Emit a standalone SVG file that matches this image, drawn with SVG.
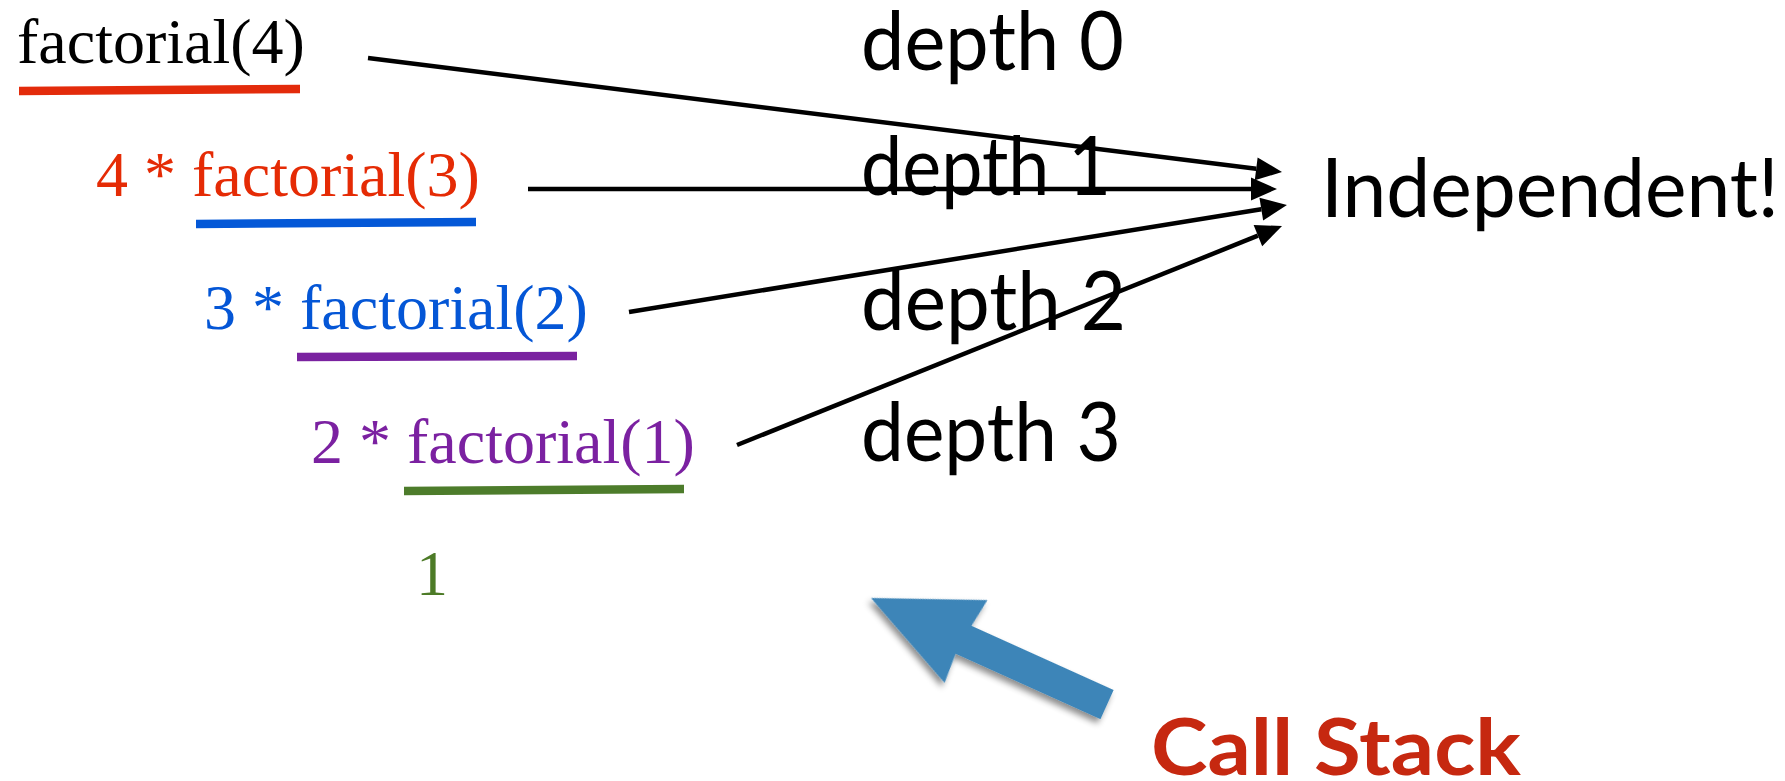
<svg xmlns="http://www.w3.org/2000/svg" width="1785" height="781" viewBox="0 0 1785 781">
  <style>
    .call { font-family: "Liberation Serif", "Times New Roman", serif; font-size: 64px; }
    .label { font-family: Lato, "Open Sans", sans-serif; font-size: 81px; fill: #000; }
    .under { stroke-width: 8.5; fill: none; }
    .conn { stroke: #000; stroke-width: 4.5; fill: none; marker-end: url(#head); }
  </style>
  <defs>
    <marker id="head" markerUnits="userSpaceOnUse" markerWidth="26" markerHeight="24" refX="0" refY="12" orient="auto" overflow="visible">
      <path d="M0,0.5 L26,12 L0,23.5 z" fill="#000"/>
    </marker>
    <filter id="shadow" x="-20%" y="-20%" width="140%" height="150%">
      <feDropShadow dx="-1" dy="5" stdDeviation="3" flood-color="#000" flood-opacity="0.45"/>
    </filter>
  </defs>
  <rect width="1785" height="781" fill="#fff"/>

  <!-- recursive calls, one per stack frame -->
  <g id="call-4">
    <text class="call" x="17" y="63" fill="#000">factorial(4)</text>
    <line class="under" x1="19" y1="91" x2="300" y2="89" stroke="#e32b0b"/>
  </g>
  <g id="call-3">
    <text class="call" x="96" y="196" fill="#e52b05">4 * factorial(3)</text>
    <line class="under" x1="196" y1="224" x2="476" y2="222" stroke="#0458d7"/>
  </g>
  <g id="call-2">
    <text class="call" x="204" y="329" fill="#0456d6">3 * factorial(2)</text>
    <line class="under" x1="297" y1="357" x2="577" y2="356" stroke="#7a22a0"/>
  </g>
  <g id="call-1">
    <text class="call" x="311" y="463" fill="#7b21a1">2 * factorial(1)</text>
    <line class="under" x1="404" y1="491" x2="684" y2="489" stroke="#4d7c2b"/>
  </g>
  <g id="base-case">
    <text class="call" x="416" y="595" fill="#4d7b27">1</text>
  </g>

  <!-- depth labels -->
  <g id="depth-0"><text class="label" x="861" y="70" textLength="263" lengthAdjust="spacingAndGlyphs">depth 0</text></g>
  <g id="depth-1"><text class="label" x="861" y="195" textLength="250" lengthAdjust="spacingAndGlyphs">depth 1</text></g>
  <g id="depth-2"><text class="label" x="861" y="330" textLength="265" lengthAdjust="spacingAndGlyphs">depth 2</text></g>
  <g id="depth-3"><text class="label" x="861" y="461" textLength="260" lengthAdjust="spacingAndGlyphs">depth 3</text></g>

  <g id="independent"><text class="label" x="1321" y="217" textLength="458" lengthAdjust="spacingAndGlyphs">Independent!</text></g>

  <!-- arrows from each frame to the shared note -->
  <g id="connectors">
    <line class="conn" x1="368" y1="58" x2="1256.2" y2="168.8"/>
    <line class="conn" x1="528" y1="189" x2="1251" y2="189"/>
    <line class="conn" x1="629" y1="312" x2="1261.3" y2="209.2"/>
    <line class="conn" x1="737" y1="445" x2="1257.9" y2="235.7"/>
  </g>

  <!-- call stack pointer -->
  <g id="call-stack">
    <path transform="translate(871,598) rotate(24.3)" filter="url(#shadow)" fill="#3d85b8"
          d="M0,0 L107,-46 L103,-16 L259,-16 L259,16 L100,16 L102,47 Z"/>
    <text x="1151" y="775" font-family="Lato, 'Open Sans', sans-serif" font-weight="700" font-size="78" fill="#c62810" textLength="370" lengthAdjust="spacingAndGlyphs">Call Stack</text>
  </g>
</svg>
